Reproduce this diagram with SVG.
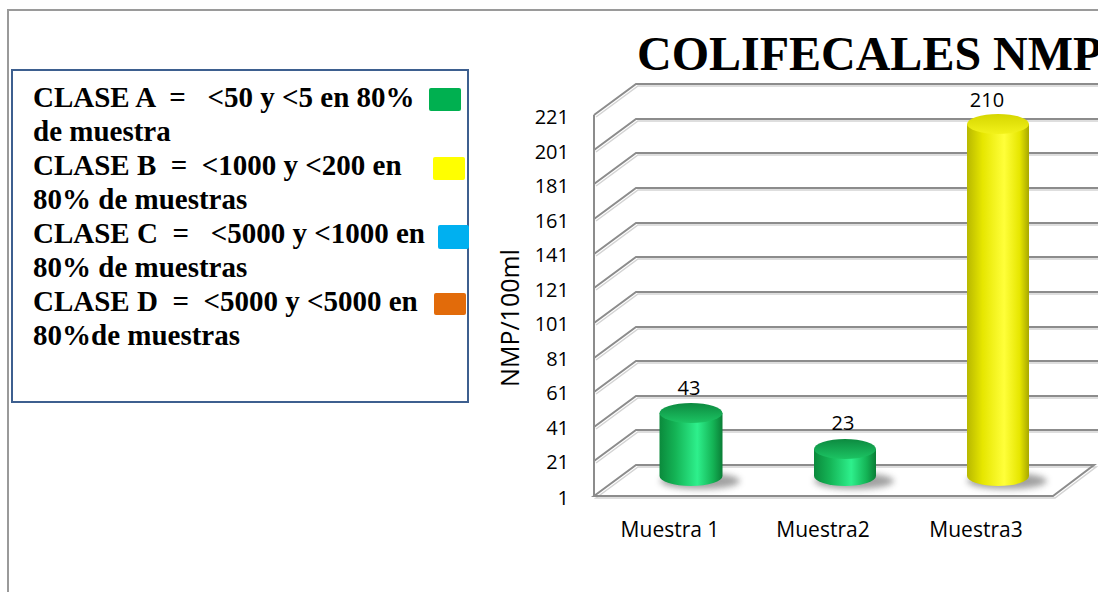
<svg xmlns="http://www.w3.org/2000/svg" width="1098" height="592" viewBox="0 0 1098 592">
<defs>
<style>
.leg{font-family:"Liberation Serif","Times New Roman",serif;font-weight:bold;font-size:29px;fill:#000;white-space:pre}
.ax{font-family:"Open Sans","Liberation Sans",sans-serif;font-size:20px;fill:#000}
.cat{font-family:"Open Sans","Liberation Sans",sans-serif;font-size:21px;fill:#000}
.grid{stroke:#8c8c8c;stroke-width:2;fill:none}
.gsh{stroke:#d4d4d4;stroke-width:1.5;fill:none}
</style>
<linearGradient id="gBody" x1="0" y1="0" x2="1" y2="0">
<stop offset="0" stop-color="#0b8a3c"/>
<stop offset="0.25" stop-color="#14b355"/>
<stop offset="0.6" stop-color="#2ef08c"/>
<stop offset="0.85" stop-color="#14b355"/>
<stop offset="1" stop-color="#0a7e36"/>
</linearGradient>
<linearGradient id="gTop" x1="0" y1="0" x2="0" y2="1">
<stop offset="0" stop-color="#0d8a40"/>
<stop offset="1" stop-color="#1cc463"/>
</linearGradient>
<linearGradient id="yBody" x1="0" y1="0" x2="1" y2="0">
<stop offset="0" stop-color="#b8b800"/>
<stop offset="0.25" stop-color="#e6e600"/>
<stop offset="0.6" stop-color="#ffff3a"/>
<stop offset="0.85" stop-color="#e6e600"/>
<stop offset="1" stop-color="#a8a800"/>
</linearGradient>
<linearGradient id="yTop" x1="0" y1="0" x2="0" y2="1">
<stop offset="0" stop-color="#d6d600"/>
<stop offset="1" stop-color="#f2f21a"/>
</linearGradient>
<filter id="blur" x="-50%" y="-50%" width="200%" height="200%"><feGaussianBlur stdDeviation="3"/></filter>
</defs>
<rect width="1098" height="592" fill="#fff"/>
<path d="M8,592 V10 H1098" stroke="#9a9a9a" stroke-width="2" fill="none"/>

<g id="legend">
<rect x="12" y="70" width="456" height="332" fill="#fff" stroke="#3d5f8f" stroke-width="2"/>
<text class="leg" x="33" y="107" xml:space="preserve">CLASE A  =   &lt;50 y &lt;5 en 80%</text>
<text class="leg" x="33" y="141">de muestra</text>
<text class="leg" x="33" y="175" xml:space="preserve">CLASE B  =  &lt;1000 y &lt;200 en</text>
<text class="leg" x="33" y="209">80% de muestras</text>
<text class="leg" x="33" y="243" xml:space="preserve">CLASE C  =   &lt;5000 y &lt;1000 en</text>
<text class="leg" x="33" y="277">80% de muestras</text>
<text class="leg" x="33" y="311" xml:space="preserve">CLASE D  =  &lt;5000 y &lt;5000 en</text>
<text class="leg" x="33" y="345">80%de muestras</text>
<rect x="429" y="88" width="32" height="23" rx="2" fill="#00b050"/>
<rect x="433" y="157" width="32" height="23" rx="2" fill="#ffff00"/>
<rect x="438" y="225" width="31" height="24" rx="2" fill="#00b0f0"/>
<rect x="434" y="293" width="32" height="22" rx="2" fill="#e26b0a"/>
</g>

<g id="title">
<text x="637" y="70" font-family="Liberation Serif,Times New Roman,serif" font-weight="bold" font-size="48">COLIFECALES NMP</text>
</g>

<g id="axes">
<g class="gsh">
<path d="M596,117 L638,86 H1098"/>
<path d="M596,152 L638,121 H1098"/>
<path d="M596,186 L638,155 H1098"/>
<path d="M596,221 L638,190 H1098"/>
<path d="M596,256 L638,225 H1098"/>
<path d="M596,290 L638,259 H1098"/>
<path d="M596,325 L638,294 H1098"/>
<path d="M596,360 L638,329 H1098"/>
<path d="M596,394 L638,363 H1098"/>
<path d="M596,429 L638,398 H1098"/>
<path d="M596,463 L638,432 H1098"/>
<path d="M596,498 L638,467 H1096 L1055,498 Z"/>
</g>
<g class="grid">
<path d="M594,115 V496"/>
<path d="M594,115 L636,84 H1098"/>
<path d="M594,150 L636,119 H1098"/>
<path d="M594,184 L636,153 H1098"/>
<path d="M594,219 L636,188 H1098"/>
<path d="M594,254 L636,223 H1098"/>
<path d="M594,288 L636,257 H1098"/>
<path d="M594,323 L636,292 H1098"/>
<path d="M594,358 L636,327 H1098"/>
<path d="M594,392 L636,361 H1098"/>
<path d="M594,427 L636,396 H1098"/>
<path d="M594,461 L636,430 H1098"/>
<path d="M594,496 L636,465 H1094 L1053,496 Z"/>
</g>
<g class="ax" text-anchor="end">
<text x="569" y="124">221</text>
<text x="569" y="159">201</text>
<text x="569" y="193">181</text>
<text x="569" y="228">161</text>
<text x="569" y="262">141</text>
<text x="569" y="297">121</text>
<text x="569" y="331">101</text>
<text x="569" y="366">81</text>
<text x="569" y="400">61</text>
<text x="569" y="435">41</text>
<text x="569" y="469">21</text>
<text x="569" y="505">1</text>
</g>
<text x="0" y="0" transform="translate(519,318) rotate(-90)" text-anchor="middle" font-family="Open Sans,Liberation Sans,sans-serif" font-size="25">NMP/100ml</text>
<g class="cat" text-anchor="middle">
<text x="670" y="537">Muestra 1</text>
<text x="823" y="537">Muestra2</text>
<text x="976" y="537">Muestra3</text>
</g>
</g>

<g id="bar1">
<ellipse cx="700" cy="481" rx="40" ry="8" fill="#555" opacity="0.55" filter="url(#blur)"/>
<path d="M659.5,413 V476 A31.5,10 0 0 0 722.5,476 V413 Z" fill="url(#gBody)"/>
<ellipse cx="691" cy="413" rx="31.5" ry="10" fill="url(#gTop)"/>
<text class="ax" x="689" y="395" text-anchor="middle">43</text>
</g>
<g id="bar2">
<ellipse cx="854" cy="481" rx="40" ry="8" fill="#555" opacity="0.55" filter="url(#blur)"/>
<path d="M814,449 V476 A31,10 0 0 0 876,476 V449 Z" fill="url(#gBody)"/>
<ellipse cx="845" cy="449" rx="31" ry="10" fill="url(#gTop)"/>
<text class="ax" x="843" y="430" text-anchor="middle">23</text>
</g>
<g id="bar3">
<ellipse cx="1007" cy="481" rx="40" ry="8" fill="#555" opacity="0.55" filter="url(#blur)"/>
<path d="M967,124 V476 A31,10 0 0 0 1029,476 V124 Z" fill="url(#yBody)"/>
<ellipse cx="998" cy="124" rx="31" ry="10" fill="url(#yTop)"/>
<text class="ax" x="987" y="107" text-anchor="middle">210</text>
</g>
</svg>
